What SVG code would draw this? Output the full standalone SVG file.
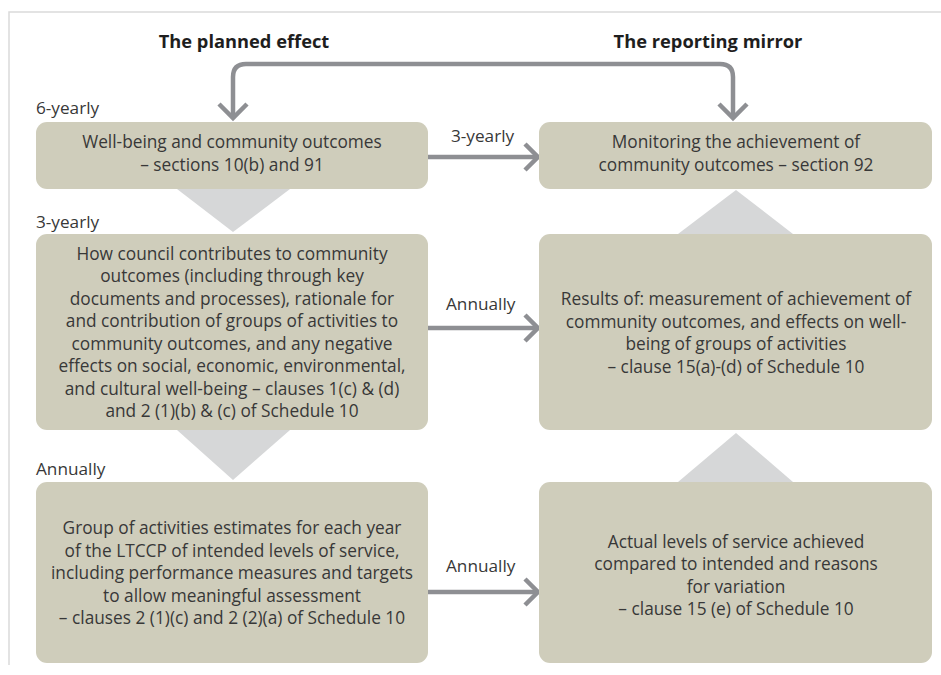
<svg xmlns="http://www.w3.org/2000/svg" width="941" height="675" viewBox="0 0 941 675">
<defs>
<style>
.box{fill:#cfcdbb}
.tri{fill:#d6d7d8}
.t{font-family:"Open Sans","Noto Sans","Liberation Sans",sans-serif;font-size:17.3px;fill:#383838;text-anchor:middle}
.lbl{font-family:"Open Sans","Noto Sans","Liberation Sans",sans-serif;font-size:17.2px;fill:#383838}
.ttl{font-family:"Open Sans","Noto Sans","Liberation Sans",sans-serif;font-size:18.3px;font-weight:bold;fill:#1e1e1e;text-anchor:middle}
.ln{fill:none;stroke:#8e8f93;stroke-width:4.5}
.frame{fill:none;stroke:#dadada;stroke-width:1.5}
</style>
</defs>
<rect width="941" height="675" fill="#ffffff"/>
<path class="frame" d="M9,665 V12 H941"/>
<text class="ttl" x="244" y="48">The planned effect</text>
<text class="ttl" x="708" y="48">The reporting mirror</text>

<g id="triangles">
<polygon class="tri" points="177,189 290,189 233,232"/>
<polygon class="tri" points="177,430 290,430 233,480"/>
<polygon class="tri" points="678,234 793,234 736,190"/>
<polygon class="tri" points="678,482 793,482 736,433"/>
</g>

<g id="connectors">
<path class="ln" d="M233,116 V77 Q233,64 246,64 H720 Q733,64 733,77 V116"/>
<polyline class="ln" points="219,104 233,118 247,104"/>
<polyline class="ln" points="719,104 733,118 747,104"/>
<path class="ln" d="M428,157 H536"/>
<polyline class="ln" points="525,144 538,157 525,170"/>
<path class="ln" d="M428,328 H536"/>
<polyline class="ln" points="525,315 538,328 525,341"/>
<path class="ln" d="M428,592 H536"/>
<polyline class="ln" points="525,579 538,592 525,605"/>
</g>

<g id="labels">
<text class="lbl" x="36" y="114">6-yearly</text>
<text class="lbl" x="36" y="228">3-yearly</text>
<text class="lbl" x="36" y="475">Annually</text>
<text class="lbl" x="451" y="142">3-yearly</text>
<text class="lbl" x="446" y="310">Annually</text>
<text class="lbl" x="446" y="572">Annually</text>
</g>

<g id="node-wellbeing">
<rect class="box" x="36" y="122" width="392" height="67" rx="11"/>
<text class="t" x="232" y="148">Well-being and community outcomes</text>
<text class="t" x="232" y="171">– sections 10(b) and 91</text>
</g>

<g id="node-monitoring">
<rect class="box" x="539" y="122" width="393" height="67" rx="11"/>
<text class="t" x="736" y="148">Monitoring the achievement of</text>
<text class="t" x="736" y="171">community outcomes – section 92</text>
</g>

<g id="node-council">
<rect class="box" x="36" y="234" width="392" height="196" rx="11"/>
<text class="t" x="232" y="259.5">How council contributes to community</text>
<text class="t" x="232" y="282">outcomes (including through key</text>
<text class="t" x="232" y="304.5">documents and processes), rationale for</text>
<text class="t" x="232" y="327">and contribution of groups of activities to</text>
<text class="t" x="232" y="349.5">community outcomes, and any negative</text>
<text class="t" x="232" y="372">effects on social, economic, environmental,</text>
<text class="t" x="232" y="394.5">and cultural well-being – clauses 1(c) &amp; (d)</text>
<text class="t" x="232" y="417">and 2 (1)(b) &amp; (c) of Schedule 10</text>
</g>

<g id="node-results">
<rect class="box" x="539" y="234" width="393" height="196" rx="11"/>
<text class="t" x="736" y="305">Results of: measurement of achievement of</text>
<text class="t" x="736" y="327.5">community outcomes, and effects on well-</text>
<text class="t" x="736" y="350">being of groups of activities</text>
<text class="t" x="736" y="372.5">– clause 15(a)-(d) of Schedule 10</text>
</g>

<g id="node-estimates">
<rect class="box" x="36" y="482" width="392" height="181" rx="11"/>
<text class="t" x="232" y="534">Group of activities estimates for each year</text>
<text class="t" x="232" y="556.5">of the LTCCP of intended levels of service,</text>
<text class="t" x="232" y="579">including performance measures and targets</text>
<text class="t" x="232" y="601.5">to allow meaningful assessment</text>
<text class="t" x="232" y="624">– clauses 2 (1)(c) and 2 (2)(a) of Schedule 10</text>
</g>

<g id="node-actual">
<rect class="box" x="539" y="482" width="393" height="181" rx="11"/>
<text class="t" x="736" y="547.5">Actual levels of service achieved</text>
<text class="t" x="736" y="570">compared to intended and reasons</text>
<text class="t" x="736" y="592.5">for variation</text>
<text class="t" x="736" y="615">– clause 15 (e) of Schedule 10</text>
</g>
</svg>
